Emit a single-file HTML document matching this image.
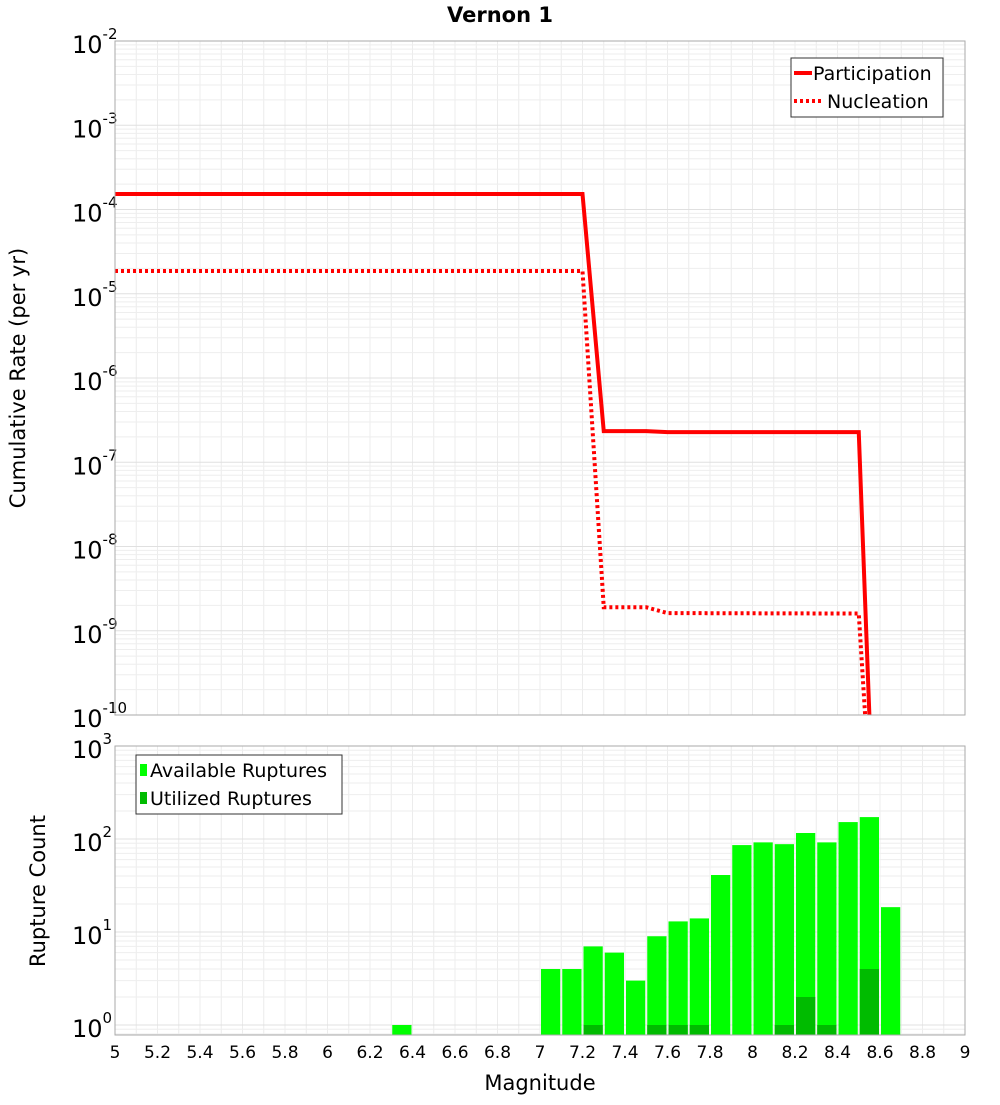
<!DOCTYPE html>
<html><head><meta charset="utf-8"><style>
body{margin:0;background:#fff;font-family:"Liberation Sans","DejaVu Sans",sans-serif}
</style></head><body>
<svg id="chart" width="1000" height="1100" xmlns="http://www.w3.org/2000/svg" font-family="DejaVu Sans, Liberation Sans, sans-serif">
<text x="500" y="22" text-anchor="middle" font-size="21" font-weight="bold">Vernon 1</text>
<g id="topPlot"></g>
<g id="botPlot"></g>
<text transform="translate(25,378) rotate(-90)" text-anchor="middle" font-size="21">Cumulative Rate (per yr)</text>
<text transform="translate(45,891) rotate(-90)" text-anchor="middle" font-size="21">Rupture Count</text>
<text x="540" y="1090" text-anchor="middle" font-size="21">Magnitude</text>
</svg>
<script>
const partMag=[5,7.2,7.3,7.5,7.6,8.5,8.55];
const partRate=[1.53e-4,1.53e-4,2.34e-7,2.34e-7,2.28e-7,2.28e-7,5e-11];
const nuclMag=[5,7.2,7.3,7.5,7.6,8.5,8.53];
const nuclRate=[1.86e-5,1.86e-5,1.9e-9,1.9e-9,1.62e-9,1.6e-9,5e-11];
const binMag=[6.35,7.05,7.15,7.25,7.35,7.45,7.55,7.65,7.75,7.85,7.95,8.05,8.15,8.25,8.35,8.45,8.55,8.65];
const availCount=[1,4,4,7,6,3,9,13,14,41,86,92,88,116,92,152,172,18.5];
const usedCount=[0,0,0,1,0,0,1,1,1,0,0,0,1,2,1,0,4,0];
const xTicks=["5","5.2","5.4","5.6","5.8","6","6.2","6.4","6.6","6.8","7","7.2","7.4","7.6","7.8","8","8.2","8.4","8.6","8.8","9"];
const NS="http://www.w3.org/2000/svg";
const X0=115,X1=965;
const x=m=>X0+(m-5)/4*(X1-X0);
const T0=41,T1=715,yT=v=>T0+(-2-Math.log10(v))*(T1-T0)/8;
const B0=746,B1=1035,yB=v=>B0+(3-Math.log10(v))*93;
function mk(p,t,a){const e=document.createElementNS(NS,t);for(const k in a)e.setAttribute(k,a[k]);p.appendChild(e);return e;}
const topG=document.getElementById('topPlot'),botG=document.getElementById('botPlot');
function grid(g,Y0,Y1,yf,dMin,dMax){
 for(let i=0;i<=40;i++){const l=mk(g,'line',{x1:x(5+i*0.1),x2:x(5+i*0.1),y1:Y0,y2:Y1,stroke:'#ececec','stroke-width':1});
 
 }
 for(let d=dMin;d<dMax;d++)for(let k=1;k<10;k++){const y=yf(k*Math.pow(10,d));if(y<Y0||y>Y1)continue;
  const l=mk(g,'line',{x1:X0,x2:X1,y1:y,y2:y,stroke:k==1?'#e0e0e0':'#eeeeee','stroke-width':1});
  
  }
}
grid(topG,T0,T1,yT,-10,-2);grid(botG,B0,B1,yB,-1,3);
for(let e=-2;e>=-10;e--){const y=yT(Math.pow(10,e));
 const t=mk(topG,'text',{x:72,y:y+12,'font-size':24});
 
 
 t.innerHTML='10<tspan dy="-14" font-size="15">'+e+'</tspan>';}
for(let e=3;e>=0;e--){const y=yB(Math.pow(10,e));
 const t=mk(botG,'text',{x:72,y:y+12,'font-size':24});
 
 
 t.innerHTML='10<tspan dy="-14" font-size="15">'+e+'</tspan>';}
function path(mags,vals,dash,name){const d=mags.map((m,i)=>(i?'L':'M')+x(m)+','+Math.min(yT(vals[i]),T1)).join('');
 const p=mk(topG,'path',{d:d,fill:'none',stroke:'#ff0000','stroke-width':4});if(dash)p.setAttribute('stroke-dasharray','3,3');
 
 }
path(nuclMag,nuclRate,true,'nucleation-line');path(partMag,partRate,false,'participation-line');
binMag.forEach((m,i)=>{const xl=x(m-0.05)+1,w=x(m+0.05)-x(m-0.05)-2;
 const y=yB(availCount[i]);const r=mk(botG,'rect',{x:xl,y:y,width:w,height:B1-y,fill:'#00ff00'});
 
 
 if(usedCount[i]>0){const yu=yB(usedCount[i]);const u=mk(botG,'rect',{x:xl,y:yu,width:w,height:B1-yu,fill:'#00bb00'});
 
 }});
[[T0,T1,topG],[B0,B1,botG]].forEach(([a,b,g])=>{const r=mk(g,'rect',{x:X0,y:a,width:X1-X0,height:b-a,fill:'none',stroke:'#aaa'});
 
 });
xTicks.forEach(s=>{const t=mk(botG,'text',{x:x(+s),y:1058,'text-anchor':'middle','font-size':17});t.textContent=s;
 
 });
const lg=mk(topG,'g',{});


mk(lg,'rect',{x:791,y:58,width:152,height:59,fill:'#fff',stroke:'#333'});
mk(lg,'line',{x1:794,x2:812,y1:73,y2:73,stroke:'#f00','stroke-width':4});
mk(lg,'line',{x1:794,x2:822,y1:101,y2:101,stroke:'#f00','stroke-width':4,'stroke-dasharray':'3,3'});
let tt=mk(lg,'text',{x:813,y:80,'font-size':19});tt.textContent='Participation';
tt=mk(lg,'text',{x:827,y:108,'font-size':19});tt.textContent='Nucleation';
const lb=mk(botG,'g',{});


mk(lb,'rect',{x:136,y:755,width:206,height:59,fill:'#fff',stroke:'#333'});
mk(lb,'rect',{x:140,y:764,width:7,height:12,fill:'#00ff00'});
mk(lb,'rect',{x:140,y:792,width:7,height:12,fill:'#00bb00'});
tt=mk(lb,'text',{x:150,y:777,'font-size':19});tt.textContent='Available Ruptures';
tt=mk(lb,'text',{x:150,y:805,'font-size':19});tt.textContent='Utilized Ruptures';
</script>
</body></html>
